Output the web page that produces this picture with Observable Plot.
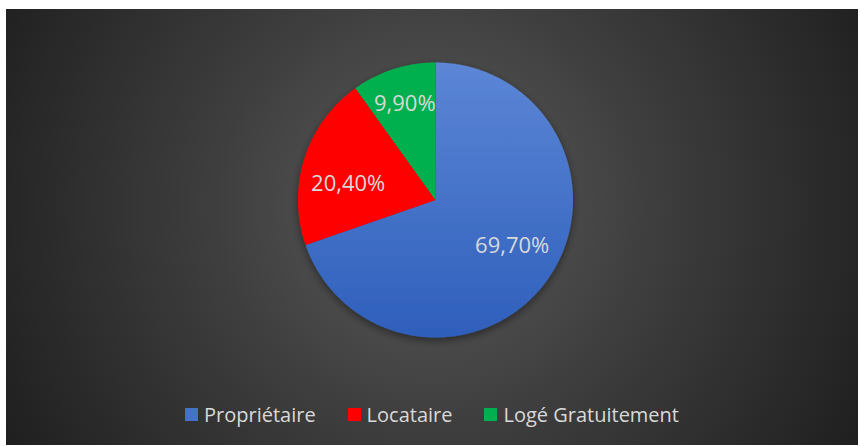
<!DOCTYPE html>
<html>
<head>
<meta charset="utf-8">
<script src="https://cdn.jsdelivr.net/npm/d3@7"></script>
<script src="https://cdn.jsdelivr.net/npm/@observablehq/plot@0.6"></script>
<style>
  html, body { margin: 0; padding: 0; background: #ffffff; }
  #chart {
    position: absolute; left: 6px; top: 9px; width: 852px; height: 436px;
    background: radial-gradient(circle farthest-corner at 50% 45%, #5c5c5c 0%, #3e3e3e 45%, #1f1f1f 100%);
    overflow: hidden;
    font-family: "Open Sans", "Liberation Sans", sans-serif;
  }
  #chart svg { position: absolute; left: 0; top: 0; }
  #legend {
    position: absolute; left: 0; top: 392px; width: 852px; height: 26px;
    display: flex; justify-content: center; align-items: center;
    color: #d9d9d9; font-size: 20px;
  }
  .item { display: flex; align-items: center; margin: 0 16px; }
  .sw { width: 13px; height: 13px; margin-right: 6px; }
</style>
</head>
<body>
<div id="chart"></div>
<script>
// ---- data ----
const categories = ["Propriétaire", "Locataire", "Logé Gratuitement"];
const values = [69.7, 20.4, 9.9];
const labels = ["69,70%", "20,40%", "9,90%"];

// ---- styles / layout ----
const colors = ["url(#blueGrad)", "#FF0000", "#00B050"];
const swatchColors = ["#4472C4", "#FF0000", "#00B050"];
const labelRadius = [0.65, 0.645, 0.73];
const labelAngleShift = [-4.5, -7.5, 0];

const arcs = d3.pie().sort(null).value(d => d)(values);
const pt = (a, r) => [r * Math.sin(a), -r * Math.cos(a)];

const slices = arcs.map((a, i) => {
  const ring = [[0, 0]];
  const n = Math.max(2, Math.ceil((a.endAngle - a.startAngle) / (Math.PI / 360)));
  for (let k = 0; k <= n; k++) ring.push(pt(a.startAngle + (a.endAngle - a.startAngle) * k / n, 1));
  ring.push([0, 0]);
  return {type: "Feature", properties: {cat: categories[i]}, geometry: {type: "Polygon", coordinates: [ring]}};
});

const circleRing = d3.range(0, 361, 2).map(d => pt(d * Math.PI / 180, 1));
const domain = {type: "Polygon", coordinates: [circleRing]};

const labelData = arcs.map((a, i) => {
  const mid = (a.startAngle + a.endAngle) / 2 + labelAngleShift[i] * Math.PI / 180;
  const [x, y] = pt(mid, labelRadius[i]);
  return {x, y, text: labels[i]};
});

const W = 852, H = 380, R = 137.5, cx = 429, cy = 190.5;
const plot = Plot.plot({
  width: W, height: H,
  marginLeft: cx - R, marginRight: W - cx - R,
  marginTop: cy - R, marginBottom: H - cy - R,
  projection: {type: "identity", domain},
  color: {type: "ordinal", domain: categories, range: colors},
  style: {background: "transparent", fontFamily: "'Open Sans', 'Liberation Sans', sans-serif"},
  marks: [
    Plot.geo(slices, {fill: d => d.properties.cat, stroke: "none"}),
    Plot.text(labelData, {x: "x", y: "y", text: "text", fill: "#d9d9d9", fontSize: 22})
  ]
});

// gradient + shadow defs
const ns = "http://www.w3.org/2000/svg";
const defs = document.createElementNS(ns, "defs");
defs.innerHTML = `
  <linearGradient id="blueGrad" x1="0" y1="0" x2="0" y2="1">
    <stop offset="0" stop-color="#5C86D6"/>
    <stop offset="1" stop-color="#2E5FBB"/>
  </linearGradient>
  <filter id="shadow" x="-20%" y="-20%" width="140%" height="140%">
    <feDropShadow dx="0" dy="3" stdDeviation="4" flood-color="#000" flood-opacity="0.45"/>
  </filter>`;
plot.insertBefore(defs, plot.firstChild);
const geoG = plot.querySelector("g[aria-label='geo']");
if (geoG) geoG.setAttribute("filter", "url(#shadow)");

const chart = document.getElementById("chart");
chart.appendChild(plot);

const legend = document.createElement("div");
legend.id = "legend";
categories.forEach((c, i) => {
  const item = document.createElement("div");
  item.className = "item";
  const sw = document.createElement("div");
  sw.className = "sw";
  sw.style.background = swatchColors[i];
  const t = document.createElement("span");
  t.textContent = c;
  item.appendChild(sw); item.appendChild(t);
  legend.appendChild(item);
});
chart.appendChild(legend);
</script>
</body>
</html>
